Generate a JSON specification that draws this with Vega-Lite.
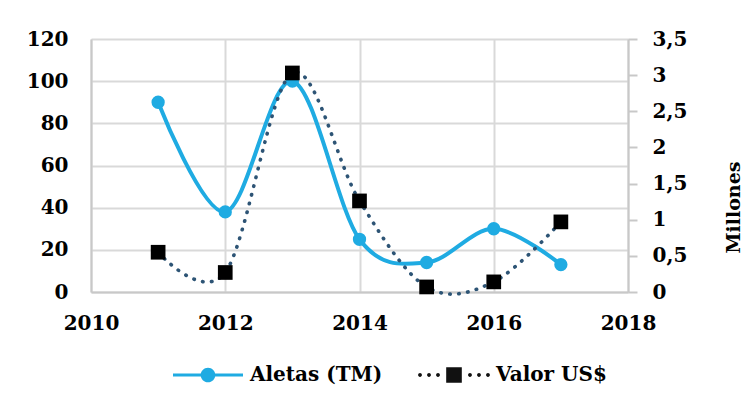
{
  "$schema": "https://vega.github.io/schema/vega-lite/v6.json",
  "width": 537,
  "height": 253,
  "autosize": {"type": "none"},
  "padding": {"left": 91, "top": 39, "right": 117, "bottom": 114},
  "background": "white",
  "config": {
    "view": {"stroke": null},
    "font": "DejaVu Serif",
    "axis": {"labelFont": "DejaVu Serif", "labelFontWeight": "bold", "labelFontSize": 20, "labelColor": "#000000", "titleFont": "DejaVu Serif", "titleFontWeight": "bold", "titleColor": "#000000"}
  },
  "data": {"values": [
    {"year": 2011, "serie": "Aletas (TM)", "value": 90},
    {"year": 2012, "serie": "Aletas (TM)", "value": 38},
    {"year": 2013, "serie": "Aletas (TM)", "value": 100},
    {"year": 2014, "serie": "Aletas (TM)", "value": 25},
    {"year": 2015, "serie": "Aletas (TM)", "value": 14},
    {"year": 2016, "serie": "Aletas (TM)", "value": 30},
    {"year": 2017, "serie": "Aletas (TM)", "value": 13},
    {"year": 2011, "serie": "Valor US$", "value": 0.55},
    {"year": 2012, "serie": "Valor US$", "value": 0.27},
    {"year": 2013, "serie": "Valor US$", "value": 3.03},
    {"year": 2014, "serie": "Valor US$", "value": 1.26},
    {"year": 2015, "serie": "Valor US$", "value": 0.07},
    {"year": 2016, "serie": "Valor US$", "value": 0.14},
    {"year": 2017, "serie": "Valor US$", "value": 0.97}
  ]},
  "encoding": {
    "x": {
      "field": "year", "type": "quantitative",
      "scale": {"domain": [2010, 2018], "nice": false, "zero": false},
      "axis": {"values": [2010, 2012, 2014, 2016, 2018], "format": "d", "title": null, "ticks": false, "labelPadding": 21, "labelFlush": false, "labelOverlap": false, "grid": true, "gridColor": "#d9d9d9", "gridWidth": 2, "domainColor": "#c8c8c8", "domainWidth": 2}
    }
  },
  "layer": [
    {
      "transform": [{"filter": "datum.serie == 'Aletas (TM)'"}],
      "encoding": {
        "y": {
          "field": "value", "type": "quantitative",
          "scale": {"domain": [0, 120], "nice": false},
          "axis": {"orient": "left", "values": [0, 20, 40, 60, 80, 100, 120], "title": null, "ticks": false, "labelPadding": 23, "grid": true, "gridColor": "#d9d9d9", "gridWidth": 2, "domainColor": "#c8c8c8", "domainWidth": 2}
        }
      },
      "layer": [
        {"mark": {"type": "line", "interpolate": "cardinal", "color": "#1fabe2", "strokeWidth": 4}, "encoding": {}},
        {"mark": {"type": "point", "shape": "circle", "filled": true, "opacity": 1, "size": 177, "color": "#1fabe2"}, "encoding": {}},
        {
          "transform": [{"filter": "false"}],
          "mark": {"type": "point", "filled": true, "opacity": 1},
          "encoding": {
            "color": {
              "field": "serie", "type": "nominal",
              "scale": {"domain": ["Aletas (TM)", "Valor US$"], "range": ["#1fabe2", "#111111"]},
              "legend": {
                "orient": "none", "legendX": 82, "legendY": 301, "direction": "horizontal", "title": null,
                "symbolSize": 4900, "symbolStrokeWidth": 0, "padding": 0,
                "labelFont": "DejaVu Serif", "labelFontWeight": "bold", "labelFontSize": 20, "labelColor": "#000000",
                "labelOffset": 7, "columnPadding": 35, "labelLimit": 300
              }
            },
            "shape": {
              "field": "serie", "type": "nominal",
              "scale": {"domain": ["Aletas (TM)", "Valor US$"], "range": [
                "M-1,-0.043H1V0.043H-1Z M-0.21,0A0.21,0.21 0 1,1 0.21,0A0.21,0.21 0 1,1 -0.21,0Z",
                "M-0.223,-0.223H0.223V0.223H-0.223Z M-1.026,0A0.055,0.055 0 1,1 -0.916,0A0.055,0.055 0 1,1 -1.026,0Z M-0.769,0A0.055,0.055 0 1,1 -0.659,0A0.055,0.055 0 1,1 -0.769,0Z M-0.512,0A0.055,0.055 0 1,1 -0.402,0A0.055,0.055 0 1,1 -0.512,0Z M0.402,0A0.055,0.055 0 1,1 0.512,0A0.055,0.055 0 1,1 0.402,0Z M0.659,0A0.055,0.055 0 1,1 0.769,0A0.055,0.055 0 1,1 0.659,0Z M0.916,0A0.055,0.055 0 1,1 1.026,0A0.055,0.055 0 1,1 0.916,0Z"
              ]},
              "legend": {
                "orient": "none", "legendX": 82, "legendY": 301, "direction": "horizontal", "title": null,
                "symbolSize": 4900, "symbolStrokeWidth": 0, "padding": 0,
                "labelFont": "DejaVu Serif", "labelFontWeight": "bold", "labelFontSize": 20, "labelColor": "#000000",
                "labelOffset": 7, "columnPadding": 35, "labelLimit": 300
              }
            }
          }
        }
      ]
    },
    {
      "transform": [{"filter": "datum.serie == 'Valor US$'"}],
      "encoding": {
        "y": {
          "field": "value", "type": "quantitative",
          "scale": {"domain": [0, 3.5], "nice": false},
          "axis": {"orient": "right", "values": [0, 0.5, 1, 1.5, 2, 2.5, 3, 3.5], "labelExpr": "replace(toString(datum.value), '.', ',')", "title": "Millones", "titleAngle": 270, "titleX": 105, "titleY": 168, "titleAlign": "center", "titleBaseline": "middle", "titleFontSize": 19, "ticks": true, "tickSize": 9, "tickColor": "#c8c8c8", "tickWidth": 2, "labelPadding": 15, "grid": false, "domainColor": "#c8c8c8", "domainWidth": 2}
        }
      },
      "layer": [
        {"mark": {"type": "line", "interpolate": "cardinal", "color": "#2d5475", "strokeWidth": 3.6, "strokeDash": [0.5, 8.5], "strokeCap": "round"}, "encoding": {}},
        {"mark": {"type": "point", "shape": "square", "filled": true, "opacity": 1, "size": 216, "color": "#000000"}, "encoding": {}}
      ]
    }
  ],
  "resolve": {"scale": {"y": "independent"}}
}
